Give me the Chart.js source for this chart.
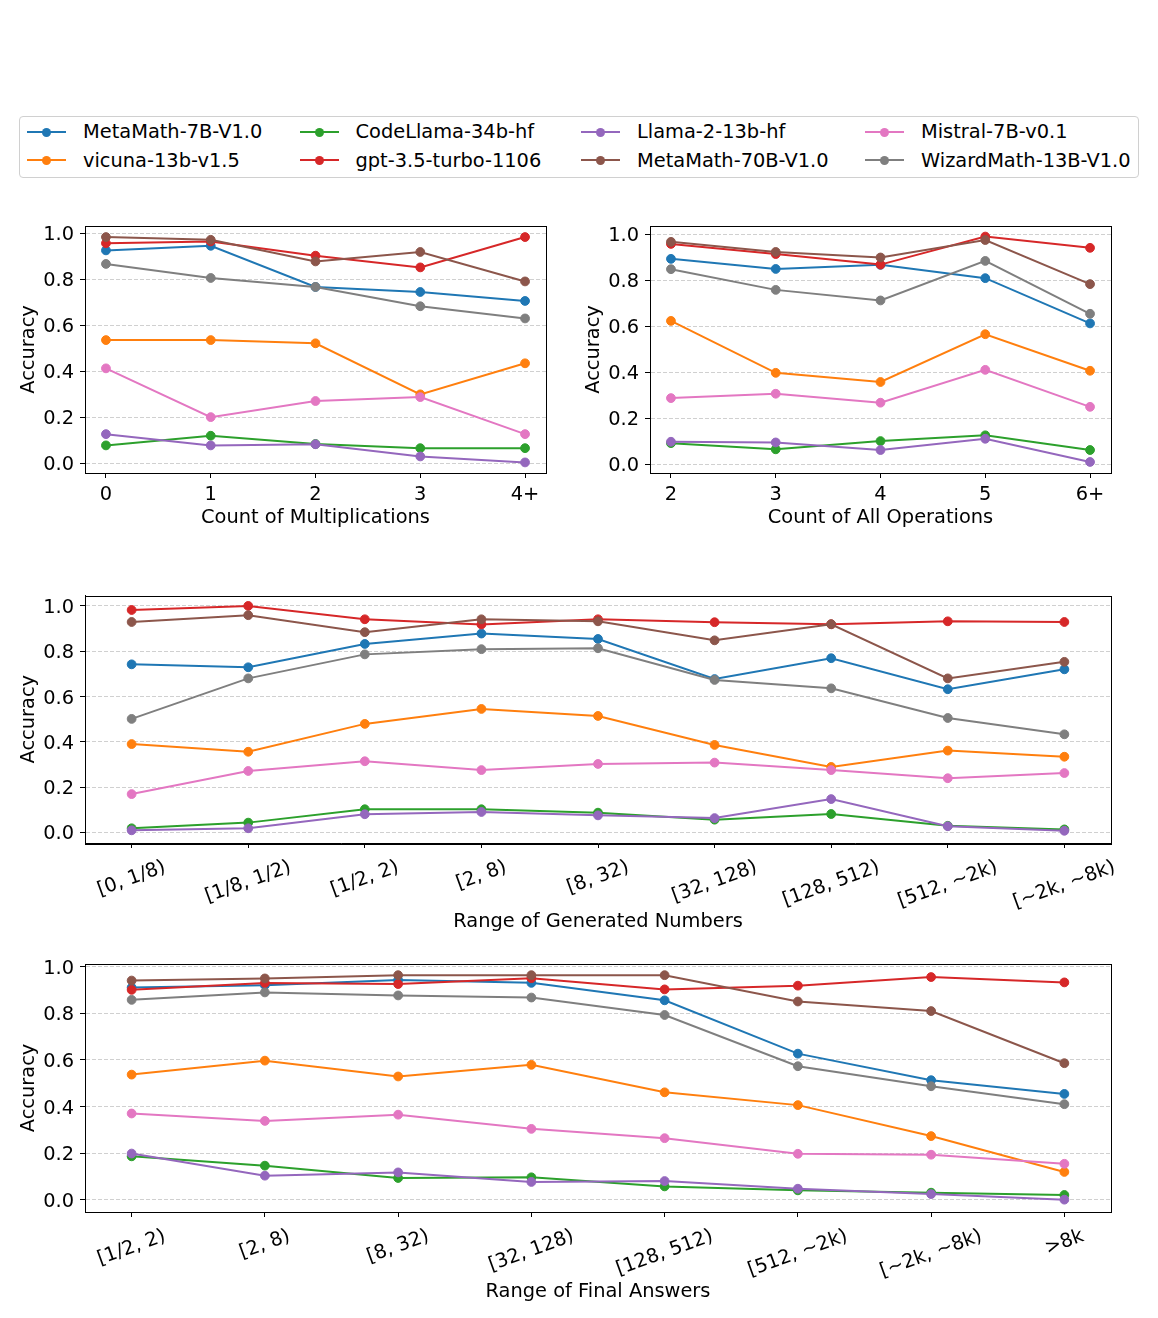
<!DOCTYPE html>
<html>
<head>
<meta charset="utf-8">
<script src="https://cdn.jsdelivr.net/npm/chart.js@4.4.0/dist/chart.umd.min.js"></script>
<style>
  body { margin: 0; background: #fff; width: 1158px; height: 1318px; position: relative; overflow: hidden; font-family: "DejaVu Sans", sans-serif; }
  canvas { position: absolute; }
  #legend { position: absolute; left: 19px; top: 116px; width: 1120px; height: 62px; box-sizing: border-box; border: 1px solid #d0d0d0; border-radius: 4px; }
  .lg-line { position: absolute; height: 2px; width: 39px; }
  .lg-dot { position: absolute; width: 9px; height: 9px; border-radius: 50%; }
  .lg-text { position: absolute; font-size: 19.4px; line-height: 23.3px; color: #000; white-space: nowrap; }
</style>
</head>
<body>
<div id="legend"></div>
<canvas id="c1" width="560" height="340" style="left:0px;top:200px"></canvas>
<canvas id="c2" width="560" height="340" style="left:565px;top:200px"></canvas>
<canvas id="c3" width="1125" height="380" style="left:0px;top:570px"></canvas>
<canvas id="c4" width="1125" height="378" style="left:0px;top:940px"></canvas>
<script>
//------ data -------//
const models = ["MetaMath-7B-V1.0", "vicuna-13b-v1.5", "CodeLlama-34b-hf", "gpt-3.5-turbo-1106",
  "Llama-2-13b-hf", "MetaMath-70B-V1.0", "Mistral-7B-v0.1", "WizardMath-13B-V1.0"];
const colors = ["#1f77b4", "#ff7f0e", "#2ca02c", "#d62728", "#9467bd", "#8c564b", "#e377c2", "#7f7f7f"];
const yTicks = [0, 0.2, 0.4, 0.6, 0.8, 1.0];

const mulLabels = ["0", "1", "2", "3", "4+"];
const opsLabels = ["2", "3", "4", "5", "6+"];
const genLabels = ["[0, 1/8)", "[1/8, 1/2)", "[1/2, 2)", "[2, 8)", "[8, 32)", "[32, 128)", "[128, 512)", "[512, ~2k)", "[~2k, ~8k)"];
const ansLabels = ["[1/2, 2)", "[2, 8)", "[8, 32)", "[32, 128)", "[128, 512)", "[512, ~2k)", "[~2k, ~8k)", ">8k"];

// one row per model, same order as `models`
const mulAcc = [
  [0.926, 0.946, 0.767, 0.745, 0.706],
  [0.536, 0.536, 0.522, 0.300, 0.435],
  [0.078, 0.120, 0.084, 0.066, 0.066],
  [0.957, 0.965, 0.903, 0.852, 0.984],
  [0.127, 0.078, 0.083, 0.030, 0.004],
  [0.984, 0.972, 0.878, 0.919, 0.791],
  [0.413, 0.201, 0.271, 0.288, 0.127],
  [0.867, 0.806, 0.767, 0.683, 0.630]
];
const opsAcc = [
  [0.893, 0.849, 0.867, 0.809, 0.612],
  [0.623, 0.397, 0.357, 0.565, 0.406],
  [0.091, 0.064, 0.100, 0.125, 0.061],
  [0.958, 0.914, 0.868, 0.990, 0.941],
  [0.097, 0.094, 0.061, 0.110, 0.009],
  [0.967, 0.923, 0.899, 0.975, 0.783],
  [0.287, 0.306, 0.267, 0.410, 0.249],
  [0.848, 0.758, 0.712, 0.884, 0.654]
];
const genAcc = [
  [0.742, 0.729, 0.832, 0.878, 0.854, 0.677, 0.769, 0.632, 0.720],
  [0.390, 0.356, 0.479, 0.545, 0.514, 0.386, 0.289, 0.361, 0.334],
  [0.018, 0.043, 0.102, 0.102, 0.087, 0.056, 0.081, 0.029, 0.013],
  [0.982, 1.000, 0.941, 0.918, 0.941, 0.928, 0.919, 0.932, 0.929],
  [0.009, 0.018, 0.080, 0.090, 0.075, 0.063, 0.147, 0.027, 0.007],
  [0.929, 0.959, 0.884, 0.941, 0.932, 0.848, 0.919, 0.680, 0.753],
  [0.169, 0.271, 0.314, 0.275, 0.302, 0.308, 0.275, 0.239, 0.262],
  [0.501, 0.680, 0.786, 0.809, 0.813, 0.673, 0.636, 0.505, 0.433]
];
const ansAcc = [
  [0.911, 0.921, 0.943, 0.931, 0.856, 0.627, 0.513, 0.454],
  [0.537, 0.597, 0.529, 0.579, 0.461, 0.406, 0.273, 0.119],
  [0.186, 0.146, 0.093, 0.096, 0.057, 0.040, 0.030, 0.020],
  [0.901, 0.930, 0.926, 0.951, 0.903, 0.919, 0.956, 0.933],
  [0.198, 0.103, 0.117, 0.076, 0.080, 0.047, 0.024, 0.000],
  [0.941, 0.950, 0.964, 0.964, 0.964, 0.851, 0.810, 0.586],
  [0.370, 0.338, 0.365, 0.304, 0.264, 0.197, 0.193, 0.154],
  [0.858, 0.890, 0.877, 0.868, 0.793, 0.573, 0.487, 0.410]
];

//------ legend (html) -------//
const legendCols = [83, 355.5, 637, 921];
const legendRows = [132, 160.3];
const legend = document.body;
models.forEach((m, i) => {
  const col = Math.floor(i / 2), row = i % 2;
  const tx = legendCols[col], cy = legendRows[row];
  const line = document.createElement("div");
  line.className = "lg-line";
  line.style.left = (tx - 56) + "px";
  line.style.top = (cy - 1) + "px";
  line.style.background = colors[i];
  const dot = document.createElement("div");
  dot.className = "lg-dot";
  dot.style.left = (tx - 56 + 19.5 - 4.5) + "px";
  dot.style.top = (cy - 4.5) + "px";
  dot.style.background = colors[i];
  const txt = document.createElement("div");
  txt.className = "lg-text";
  txt.style.left = tx + "px";
  txt.style.top = (cy - 11.7) + "px";
  txt.textContent = m;
  legend.appendChild(line);
  legend.appendChild(dot);
  legend.appendChild(txt);
});

//------ chart setup -------//
Chart.defaults.font.family = "'DejaVu Sans'";
Chart.defaults.font.size = 19.4;
Chart.defaults.color = "#000";

// full frame around the plot area, like matplotlib spines
const frameBox = {
  id: "frameBox",
  afterDatasetsDraw(chart) {
    const a = chart.chartArea, ctx = chart.ctx;
    ctx.save();
    ctx.strokeStyle = "#000";
    ctx.lineWidth = 1;
    ctx.strokeRect(Math.round(a.left) + 0.5, Math.round(a.top) + 0.5,
      Math.round(a.right - a.left), Math.round(a.bottom - a.top));
    ctx.restore();
  }
};

// x labels rotated 20deg, centred on the tick
const rotatedTicks = {
  id: "rotatedTicks",
  afterDraw(chart, args, opts) {
    if (!opts.labels) return;
    const ctx = chart.ctx, sc = chart.scales.x;
    const ang = 20 * Math.PI / 180, h = 19.4 * 1.17;
    ctx.save();
    ctx.font = "19.4px 'DejaVu Sans'";
    ctx.fillStyle = "#000";
    ctx.textAlign = "center";
    ctx.textBaseline = "middle";
    opts.labels.forEach((t, j) => {
      const w = ctx.measureText(t).width;
      const x = sc.getPixelForValue(j);
      const y = sc.top + opts.pad + (w * Math.sin(ang) + h * Math.cos(ang)) / 2;
      ctx.save();
      ctx.translate(x, y);
      ctx.rotate(-ang);
      ctx.fillText(t, 0, 0);
      ctx.restore();
    });
    ctx.restore();
  }
};

function makePanel(id, labels, acc, o) {
  const datasets = models.map((m, i) => ({
    label: m,
    data: acc[i].map((v, j) => ({ x: j, y: v })),
    borderColor: colors[i],
    backgroundColor: colors[i],
    pointBackgroundColor: colors[i],
    pointBorderColor: colors[i],
    borderWidth: 2,
    pointRadius: 4.4,
    pointBorderWidth: 1,
    order: models.length - i
  }));

  return new Chart(document.getElementById(id), {
    type: "line",
    data: { datasets: datasets },
    plugins: [frameBox, rotatedTicks],
    options: {
      responsive: false,
      animation: false,
      devicePixelRatio: 1,
      layout: { padding: { left: 0, top: o.padTop, right: 14, bottom: 0 } },
      plugins: {
        legend: { display: false },
        tooltip: { enabled: false },
        rotatedTicks: { labels: o.rotate ? labels : null, pad: 13 }
      },
      scales: {
        x: {
          type: "linear",
          min: -o.xm,
          max: labels.length - 1 + o.xm,
          afterBuildTicks: (ax) => { ax.ticks = labels.map((_, j) => ({ value: j })); },
          afterFit: (ax) => { ax.height = o.xh; },
          ticks: { display: !o.rotate, autoSkip: false, maxRotation: 0, minRotation: 0, padding: 5, color: "#000",
            callback: (v) => labels[v] },
          grid: { drawOnChartArea: false, drawTicks: true, tickLength: 5, tickColor: "#000", tickWidth: 1 },
          border: { color: "#000", width: 1 },
          title: { display: true, text: o.xTitle, color: "#000", padding: { top: 0, bottom: o.titlePad } }
        },
        y: {
          type: "linear",
          min: o.ymin,
          max: o.ymax,
          afterBuildTicks: (ax) => { ax.ticks = yTicks.map((v) => ({ value: v })); },
          afterFit: (ax) => { ax.width = 85; },
          ticks: { padding: 6, labelOffset: 2, color: "#000", callback: (v) => v.toFixed(1) },
          grid: { color: "rgba(176,176,176,0.6)", lineWidth: 1, tickLength: 5, tickColor: "#000", tickWidth: 1, tickBorderDash: [] },
          border: { color: "#000", width: 1, dash: [4, 2] },
          title: { display: true, text: "Accuracy", color: "#000", padding: { top: 17.4, bottom: 0 } }
        }
      }
    }
  });
}

makePanel("c1", mulLabels, mulAcc, { padTop: 26, xh: 67, xm: 0.2, ymin: -0.042, ymax: 1.032,
  xTitle: "Count of Multiplications", titlePad: 10.4 });
makePanel("c2", opsLabels, opsAcc, { padTop: 26, xh: 67, xm: 0.2, ymin: -0.039, ymax: 1.036,
  xTitle: "Count of All Operations", titlePad: 10.4 });
makePanel("c3", genLabels, genAcc, { padTop: 25.5, xh: 107, xm: 0.4, ymin: -0.047, ymax: 1.046, rotate: true,
  xTitle: "Range of Generated Numbers", titlePad: 16.4 });
makePanel("c4", ansLabels, ansAcc, { padTop: 24, xh: 106, xm: 0.35, ymin: -0.053, ymax: 1.012, rotate: true,
  xTitle: "Range of Final Answers", titlePad: 14.4 });
</script>
</body>
</html>
